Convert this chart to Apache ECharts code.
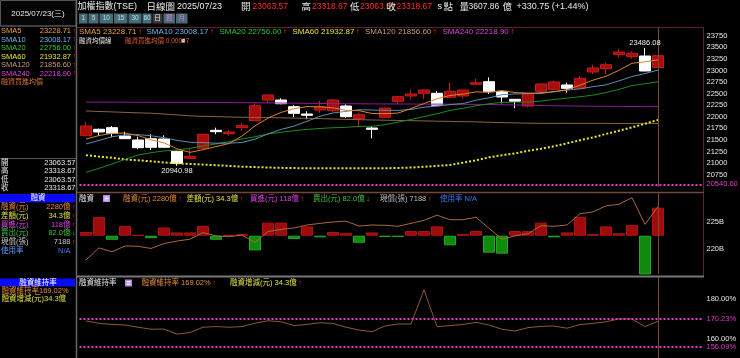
<!DOCTYPE html>
<html><head><meta charset="utf-8">
<script src="https://cdn.jsdelivr.net/npm/echarts@6/dist/echarts.min.js"></script>
<style>html,body{margin:0;padding:0;background:#000;overflow:hidden}#c{width:740px;height:358px}</style>
</head><body><div id="c"></div><script>
// ---------- data ----------
const dates = ['05/21','05/22','05/23','05/26','05/27','05/28','05/29',
 '06/02','06/03','06/04','06/05','06/06','06/09','06/10','06/11','06/12','06/13','06/16','06/17','06/18','06/19','06/20','06/23','06/24','06/25','06/26','06/27','06/30',
 '07/01','07/02','07/03','07/04','07/07','07/08','07/09','07/10','07/11','07/14','07/15','07/16','07/17','07/18','07/21','07/22','07/23'];
const padDays = ['', ' ', '  '];
const opens = [21592,21730,21765,21585,21499,21527,21521,21255,21104,21320,
 21708,21635,21765,21916,22362,22362,22218,22060,22146,22131,
 22233,21959,21758,21989,22334,22449,22507,22507,22421,22449,
 22701,22757,22541,22377,22233,22550,22593,22686,22615,22967,
 23038,23340,23297,23312,23063.57];
const closes = [21801,21672,21643,21527,21333,21342,21342,20996,21147,21622,
 21678,21672,21808,22239,22470,22282,22075,22032,22218,22362,
 22002,22045,21730,22190,22434,22492,22578,22248,22550,22578,
 22736,22541,22427,22334,22507,22708,22751,22614,22830,23053,
 23124,23398,23370,22987.92,23318.67];
const lows = [21592,21586,21557,21520,21298,21283,21330,20940.98,21089,21310,
 21622,21592,21700,21910,22291,22270,21989,21946,22088,22103,
 21974,21773,21535,21975,22276,22377,22377,22240,22390,22390,
 22686,22492,22291,22183,22205,22507,22590,22520,22610,22923,
 22923,23284,23254,22980,23063.57];
const highs = [21894,21745,21801,21678,21570,21622,21600,21270,21305,21630,
 21765,21715,21873,22291,22475,22399,22248,22118,22341,22380,
 22269,22088,21801,22200,22440,22593,22585,22557,22736,22585,
 22816,22852,22563,22385,22515,22715,22780,22736,22880,23124,
 23167,23469,23412,23486.08,23318.67];
const sma5 = [21520,21595,21643,21649,21595,21503,21437,21308,21232,21290,
 21357,21423,21585,21804,21973,22094,22175,22220,22215,22194,
 22138,22132,22071,22066,22080,22178,22285,22388,22460,22489,
 22538,22531,22566,22523,22509,22503,22545,22583,22682,22791,
 22874,23004,23155,23187,23229];
const sma10 = [21413,21490,21570,21610,21615,21590,21550,21490,21450,21443,
 21430,21430,21447,21518,21632,21726,21799,21903,22010,22084,
 22116,22153,22146,22141,22137,22158,22208,22230,22263,22285,
 22358,22408,22477,22492,22499,22521,22538,22575,22603,22650,
 22689,22775,22869,22934,23008];
const sma20 = [20801,20888,20981,21082,21175,21225,21262,21283,21320,21370,
 21413,21462,21521,21570,21629,21665,21700,21728,21748,21763,
 21773,21792,21796,21829,21884,21942,22004,22066,22136,22184,
 22237,22281,22311,22316,22318,22339,22373,22402,22433,22467,
 22524,22591,22673,22713,22756];
const sma60 = [21172,21140,21115,21080,21060,21040,21015,20995,20983,20968,
 20955,20940,20923,20915,20905,20898,20893,20888,20888,20887,
 20887,20887,20888,20889,20895,20905,20920,20940,20960,21010,
 21060,21125,21170,21210,21265,21310,21365,21425,21495,21555,
 21630,21700,21770,21850,21933];
const sma120 = [22125,22115,22105,22095,22085,22077,22060,22040,22020,22010,
 22003,21996,21989,21985,21981,21977,21972,21967,21960,21952,
 21945,21938,21931,21926,21921,21916,21911,21905,21900,21895,
 21889,21882,21875,21868,21861,21859,21859,21859,21858,21858,
 21858,21857,21857,21857,21857];
const sma240 = [22318,22317,22316,22315,22314,22313,22312,22311,22310,22309,
 22308,22306,22304,22302,22300,22297,22294,22291,22288,22285,
 22282,22280,22278,22277,22276,22275,22274,22273,22272,22270,
 22268,22265,22260,22254,22248,22243,22238,22234,22231,22228,
 22226,22224,22222,22220,22219];
const marginChange = [4.5,23,-5,12,0.8,-3,10,4,4,12,
 -5,0.5,2,-18,16,16,-4,11.4,-2,4.5,
 3,-8.6,4,-1.6,-1.6,5.7,5.7,11.4,-11.8,2,
 5.7,-20.8,-22,5.7,5.7,16,-2,4,23,2,
 11.4,3,13,-49,34.3];
const marginBalance = [2180,2202,2195,2205.5,2205,2201,2210,2214.6,2218,2230,
 2224,2222.5,2225.6,2212,2232,2236,2238.5,2244,2247,2249.5,
 2251,2242,2244,2243.4,2241.6,2247,2252.5,2262,2253.7,2253.7,
 2258,2238,2218,2224,2228,2242.7,2241.6,2244,2264.6,2268,
 2279,2282,2294,2245,2278];
const maintRatio = [169.1,167.9,167.4,167.1,166.0,165.0,165.1,162.6,163.3,166.0,
 166.3,166.0,166.3,168.0,169.2,168.7,166.8,167.4,168.2,167.9,
 166.0,164.6,163.8,166.6,167.6,167.6,184.5,166.3,166.8,167.4,
 168.4,167.1,165.0,164.1,165.8,166.4,166.6,165.5,167.3,167.9,
 168.7,170.1,170.1,166.3,169.02];
const priceTicks = [20750,21000,21250,21500,21750,22000,22250,22500,22750,23000,23250,23500,23750];
const balanceTicks = [2200,2250];
const ratioTicks = [160,180];
const lowLine = 20540.60;
const ratioLines = [170.23,156.09];

// ---------- styling helpers ----------
const FONT = '"Liberation Sans","Noto Sans CJK TC",sans-serif';
const RED = '#ff2a2a', PINK = '#e23cc8', WHITE = '#e8e8e8';
const C5 = '#f0a040', C10 = '#6ab4e8', C20 = '#2cc82c', C60 = '#e8e830', C120 = '#c8987a', C240 = '#e040e0';
function T(x, y, text, fill, size, align) {
  return {type:'text', x:x, y:y, silent:true, z:100, style:{text:text, fill:fill, font:size+'px '+FONT, align:align||'left', verticalAlign:'middle'}};
}
function TA(x, y, text, fill, size, arrow, arrowFill, align) {
  return {type:'text', x:x, y:y, silent:true, z:100, style:{
    text:'{a|'+text+'}'+(arrow?'{r|'+arrow+'}':''), font:size+'px '+FONT, align:align||'left', verticalAlign:'middle',
    rich:{a:{fill:fill, fontSize:size, fontFamily:FONT}, r:{fill:arrowFill||RED, fontSize:size, fontFamily:FONT, padding:[0,0,0,1.5]}}}};
}
function L(x1,y1,x2,y2,stroke,w){return {type:'line', silent:true, z:90, shape:{x1:x1,y1:y1,x2:x2,y2:y2}, style:{stroke:stroke, lineWidth:w||1}};}
function R(x,y,w,h,fill,stroke){return {type:'rect', silent:true, z:80, shape:{x:x,y:y,width:w,height:h}, style:{fill:fill||'none', stroke:stroke||'none', lineWidth:1}};}
function icon(x,y){return [R(x,y,7,7,'#b48ae8'), L(x+1.5,y+2,x+5.5,y+2,'#fff',0.8), L(x+1.5,y+3.5,x+5.5,y+3.5,'#fff',0.8), L(x+1.5,y+5,x+5.5,y+5,'#fff',0.8)];}

const g = [];
// top-left date box
g.push(R(0.5,0.5,75.5,25.5,'#050505','#555'));
g.push(T(38,14,'2025/07/23(三)',WHITE,8,'center'));
// title row
g.push(T(77.5,7,'加權指數(TSE)',WHITE,9));
g.push(T(146.5,7,'日線圖',WHITE,9.5));
g.push(T(177,7,'2025/07/23',WHITE,9));
g.push(T(241,7,'開',WHITE,9.5)); g.push(T(252.5,7,'23063.57',RED,8.5));
g.push(T(301.5,7,'高',WHITE,9.5)); g.push(T(312,7,'23318.67',RED,8.5));
g.push(T(350,7,'低',WHITE,9.5)); g.push(T(360,7,'23063.57',RED,8.5));
g.push(T(386.5,7,'收',WHITE,9.5)); g.push(T(396.5,7,'23318.67',RED,8.5));
g.push(T(437.5,7,'s',WHITE,9)); g.push(T(443.5,7,'點',WHITE,9.5));
g.push(T(459.5,7,'量',WHITE,9.5)); g.push(T(468.5,7,'3607.86',WHITE,8.5)); g.push(T(502.5,7,'億',WHITE,9.5));
g.push(T(516.5,7,'+330.75 (+1.44%)',WHITE,9));
// buttons
const buttons = [['1',79,87.5],['5',88.5,98.5],['10',99.5,113],['15',114,127.5],['30',128.5,141.5],['60',142.5,151.5],['日',152.5,162.5],['週',163.5,175],['月',176,187.5]];
buttons.forEach(function(b){
  const sel = b[0]==='日';
  g.push(R(b[1],13.5,b[2]-b[1],10, sel?'#3a3a3a':'#4a6b74'));
  g.push(T((b[1]+b[2])/2,18.7,b[0], (b[0]==='週'||b[0]==='月')?'#e07ae0':(sel?'#f0f0f0':'#a8e4f4'),6.5,'center'));
});
// frames & separators
g.push(L(76.5,0,76.5,358,'#666',1.5));
g.push(L(77,27.5,704,27.5,'#5a2626',1));
g.push(L(703.5,27,703.5,277,'#5a2626',1));
g.push(L(77,192.5,704,192.5,'#6e4444',1.5));
g.push(L(77,276.5,704,276.5,'#777',2));
g.push(L(0,26,76,26,'#555',1));
g.push(L(0,158.5,76,158.5,'#555',1));
// left panel: moving averages
const leftMA = [['SMA5','23228.71',C5],['SMA10','23008.17',C10],['SMA20','22756.00',C20],['SMA60','21932.87',C60],['SMA120','21856.60',C120],['SMA240','22218.90',C240]];
leftMA.forEach(function(r,k){
  const y = 31 + k*8.5;
  g.push(T(1,y,r[0],r[2],7.5));
  g.push(T(71,y,r[1],r[2],7.5,'right'));
  g.push(T(72.5,y,'↑',RED,7));
});
g.push(T(1,82,'融資買進均價','#d87030',7));
const ohlcRows = [['開','23063.57'],['高','23318.67'],['低','23063.57'],['收','23318.67']];
ohlcRows.forEach(function(r,k){
  const y = 162.7 + k*8.55;
  g.push(T(1,y,r[0],WHITE,7.5));
  g.push(T(75.5,y,r[1],WHITE,7.5,'right'));
});
// left panel: margin
g.push(R(0,194,75,8.5,'#0a0af5'));
g.push(T(38,198.3,'融資','#fff',7.5,'center'));
const marginRows = [['融資(元)','2280億','#e88838','↑',RED],['差額(元)','34.3億','#e0e040','↑',RED],['買進(元)','118億','#e040e0','↑',RED],['賣出(元)','82.0億','#40c040','↓','#30d030'],['現償(張)','7188','#c4c4c4','↑',RED],['使用率','N/A','#5a9cff','','']];
marginRows.forEach(function(r,k){
  const y = 207.3 + k*8.7;
  g.push(T(1,y,r[0],r[2],7.5));
  g.push(T(70.5,y,r[1], k===5?'#3a78f0':r[2],7.5,'right'));
  if (r[3]) g.push(T(72,y,r[3],r[4],7));
});
g.push(R(0,278.5,75,8,'#0a0af5'));
g.push(T(38,282.5,'融資維持率','#fff',7.5,'center'));
g.push(T(1.5,290.7,'融資維持率169.02%','#e88838',7.5));
g.push(T(1.5,299.3,'融資增減(元)34.3億','#e0e040',7.5));
// chart headers
const hdr = [[79,'SMA5 23228.71',C5],[146.5,'SMA10 23008.17',C10],[219.5,'SMA20 22756.00',C20],[292.5,'SMA60 21932.87',C60],[365,'SMA120 21856.60',C120],[442.5,'SMA240 22218.90',C240]];
hdr.forEach(function(h){ g.push(TA(h[0],31.5,h[1],h[2],8,'↑')); });
g.push(T(79,41,'融資均價線',WHITE,6.5));
g.push(T(125,41,'融資買進均價 0.00097','#d86030',6.5));
g.push(R(181.5,39,3.5,3.5,'#ddd'));
g.push(T(79,198.5,'融資',WHITE,7.5));
icon(103,195).forEach(function(e){g.push(e);});
const hdr2 = [[123,'融資(元) 2280億','#e88838','↑',RED],[186.5,'差額(元) 34.3億','#e0e040','↑',RED],[250,'買進(元) 118億','#e040e0','↑',RED],[313,'賣出(元) 82.0億','#40c040','↓','#30d030'],[380,'現償(張) 7188','#bdbdbd','↑',RED],[440,'使用率 N/A','#3a78f0','','']];
hdr2.forEach(function(h){ g.push(TA(h[0],198.5,h[1],h[2],7.5,h[3],h[4])); });
g.push(T(79,283,'融資維持率',WHITE,7.5));
icon(125,279.5).forEach(function(e){g.push(e);});
g.push(TA(141.5,283,'融資維持率 169.02%','#e88838',7.5,'↑'));
g.push(TA(230,283,'融資增減(元) 34.3億','#e0e040',7.5,'↑'));

// ---------- chart ----------
const cats = dates.concat(padDays);
const lastDay = dates[dates.length-1];
const ohlc = opens.map(function(o,i){return [o, closes[i], lows[i], highs[i]];});
const vLine = {xAxis:lastDay, lineStyle:{color:'#7c4a30', type:'solid', width:1}, label:{show:false}};
function pinkLine(v, txt){return {yAxis:v, lineStyle:{color:PINK, type:'dotted', width:2}, label:{show:true, position:'end', formatter:txt, color:PINK, fontSize:7.5, fontFamily:FONT, distance:3}};}
function ma(data, color, width, type){return {type:'line', xAxisIndex:0, yAxisIndex:0, data:data, symbol:'none', showSymbol:false, silent:true, lineStyle:{color:color, width:width, type:type||'solid'}};}
const axLabel = {color:'#e6e6e6', fontSize:7.5, fontFamily:FONT, margin:3};
function xa(i){return {type:'category', gridIndex:i, data:cats, boundaryGap:true, axisLine:{show:false}, axisTick:{show:false}, axisLabel:{show:false}, splitLine:{show:false}};}

const option = {
  backgroundColor:'#000',
  animation:false,
  graphic:g,
  grid:[
    {left:79.5, top:27, width:624, height:160},
    {left:79.5, top:193, width:624, height:81},
    {left:79.5, top:277, width:624, height:81}
  ],
  xAxis:[xa(0), xa(1), xa(2)],
  yAxis:[
    {type:'value', gridIndex:0, position:'right', min:20484.5, max:23937.8, axisLine:{show:false}, axisTick:{show:false}, splitLine:{show:false},
      axisLabel:Object.assign({customValues:priceTicks, formatter:function(v){return String(v);}}, axLabel)},
    {type:'value', gridIndex:1, position:'right', min:2154.2, max:2302.6, axisLine:{show:false}, axisTick:{show:false}, splitLine:{show:false},
      axisLabel:Object.assign({customValues:balanceTicks, formatter:function(v){return (v/10)+'B';}}, axLabel)},
    {type:'value', gridIndex:1, show:false, min:-46.9, max:52.3, splitLine:{show:false}},
    {type:'value', gridIndex:2, position:'right', min:150.72, max:190.92, axisLine:{show:false}, axisTick:{show:false}, splitLine:{show:false},
      axisLabel:Object.assign({customValues:ratioTicks, formatter:function(v){return v.toFixed(2)+'%';}}, axLabel)}
  ],
  series:[
    {type:'candlestick', xAxisIndex:0, yAxisIndex:0, data:ohlc, barWidth:11,
      itemStyle:{color:'#a80d0d', color0:'#ffffff', borderColor:'#cc1a1a', borderColor0:'#ffffff', borderWidth:1},
      markPoint:{symbol:'circle', symbolSize:0.1, silent:true, itemStyle:{color:'rgba(0,0,0,0)'},
        label:{show:true, color:'#eeeeee', fontSize:7.5, fontFamily:FONT, formatter:function(p){return Number(p.value).toFixed(2);}},
        data:[{type:'max', valueDim:'highest', label:{position:'top', distance:1}}, {type:'min', valueDim:'lowest', label:{position:'bottom', distance:1}}]},
      markLine:{symbol:['none','none'], silent:true, data:[pinkLine(lowLine,'20540.60'), vLine]}},
    ma(sma240, '#8c1c9c', 1),
    ma(sma120, '#8a6440', 1),
    ma(sma60, C60, 2, 'dotted'),
    ma(sma20, '#1c8c1c', 1),
    ma(sma10, '#5a8eb4', 1),
    ma(sma5, '#d8842e', 1),
    {type:'bar', xAxisIndex:1, yAxisIndex:2, barWidth:12, silent:true,
      data:marginChange.map(function(v){return {value:v, itemStyle:{color: v>=0?'#9e0b0b':'#0f8a0f', borderColor: v>=0?'#b41212':'#22a822', borderWidth:1}};}),
      markLine:{symbol:['none','none'], silent:true, data:[vLine]}},
    {type:'line', xAxisIndex:1, yAxisIndex:1, data:marginBalance, symbol:'none', silent:true, lineStyle:{color:'#a8683c', width:1}},
    {type:'line', xAxisIndex:2, yAxisIndex:3, data:maintRatio, symbol:'none', silent:true, lineStyle:{color:'#8e5836', width:1},
      markLine:{symbol:['none','none'], silent:true, data:[pinkLine(ratioLines[0],'170.23%'), pinkLine(ratioLines[1],'156.09%'), vLine]}}
  ]
};
const chart = echarts.init(document.getElementById('c'), null, {renderer:'canvas'});
chart.setOption(option);
</script></body></html>
